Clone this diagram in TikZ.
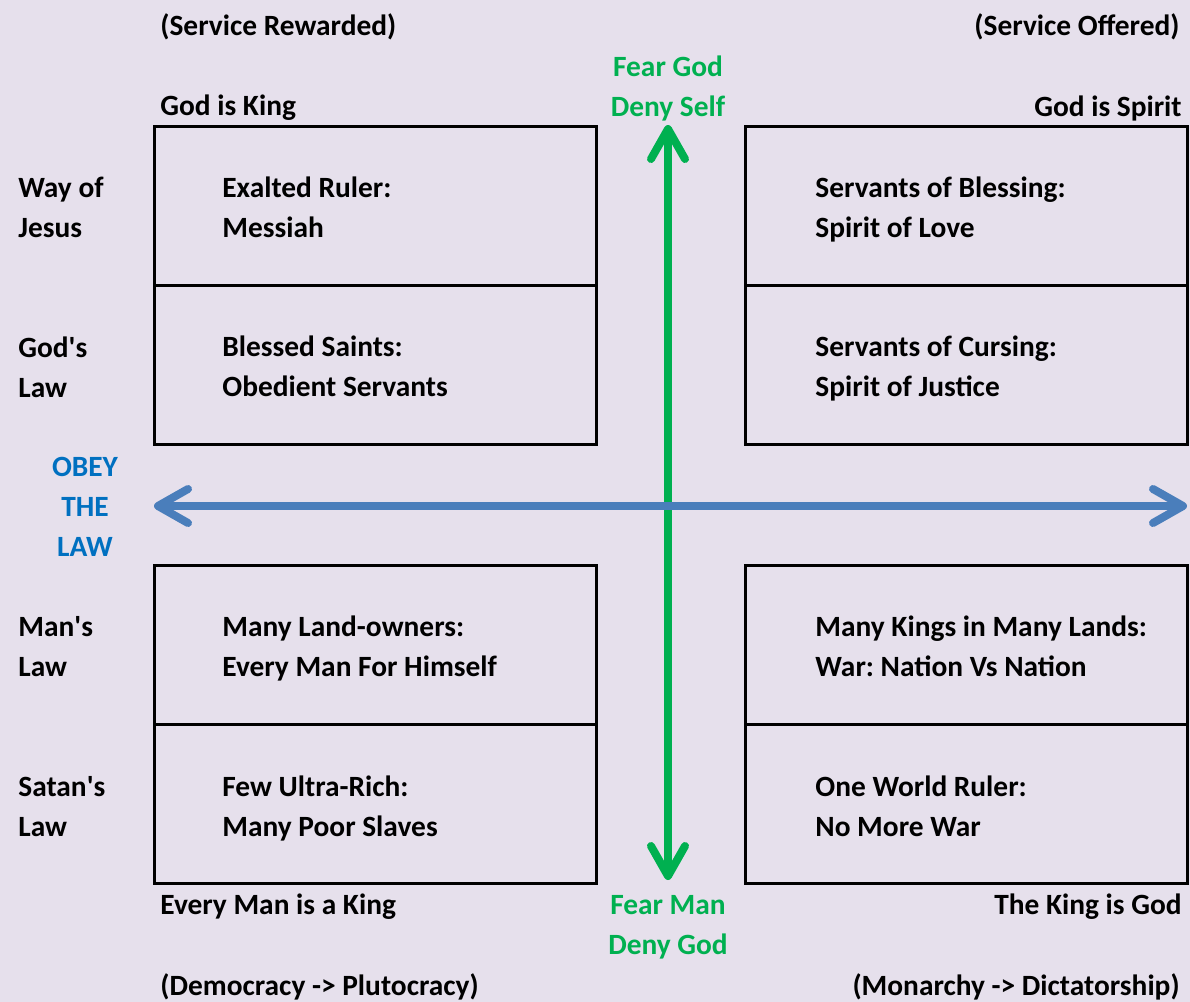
\documentclass[tikz,border=0pt]{standalone}
\usepackage{fontspec}
\setmainfont{Carlito}
\usetikzlibrary{arrows.meta, positioning}

\definecolor{lavender}{HTML}{E6E0EC}
\definecolor{feargreen}{HTML}{00B050}
\definecolor{lawblue}{HTML}{4A7EBB}
\definecolor{obeyblue}{HTML}{0070C0}

\tikzset{
	txt/.style={font=\bfseries\fontsize{14.7}{20}\selectfont, inner sep=0pt, align=left},
	intxt/.style={txt, anchor=north west},
	quad/.style={draw, line width=1.5pt, minimum width=221pt, minimum height=79.5pt, inner sep=0pt},
	axis/.style={line width=4pt, {Straight Barb[round, length=15pt, width=17pt]}-{Straight Barb[round, length=15pt, width=17pt]}}
}

\begin{document}
\frenchspacing
\begin{tikzpicture}[x=0.5pt, y=-0.5pt]
	\fill[lavender] (0,0) rectangle (1190,1002);
	\useasboundingbox (0,0) rectangle (1190,1002);

	% the four pairs of boxes
	\node[quad] (jesus) at (375.5,205.5) {};
	\node[quad] (godlaw) at (375.5,364.5) {};
	\node[quad] (manlaw) at (375.5,644.5) {};
	\node[quad] (satanlaw) at (375.5,804) {};
	\node[quad] (blessing) at (966.5,205.5) {};
	\node[quad] (cursing) at (966.5,364.5) {};
	\node[quad] (kings) at (966.5,644.5) {};
	\node[quad] (ruler) at (966.5,804) {};

	% box texts
	\node[intxt] (exalted) at ([xshift=34.5pt, yshift=-26pt]jesus.north west) {Exalted Ruler:\\Messiah};
	\node[intxt] (saints) at ([xshift=34.5pt, yshift=-26pt]godlaw.north west) {Blessed Saints:\\Obedient Servants};
	\node[intxt] (owners) at ([xshift=34.5pt, yshift=-26pt]manlaw.north west) {Many Land-owners:\\Every Man For Himself};
	\node[intxt] (rich) at ([xshift=34.5pt, yshift=-26pt]satanlaw.north west) {Few Ultra-Rich:\\Many Poor Slaves};
	\node[intxt] (love) at ([xshift=35.5pt, yshift=-26pt]blessing.north west) {Servants of Blessing:\\Spirit of Love};
	\node[intxt] (justice) at ([xshift=35.5pt, yshift=-26pt]cursing.north west) {Servants of Cursing:\\Spirit of Justice};
	\node[intxt] (nations) at ([xshift=35.5pt, yshift=-26pt]kings.north west) {Many Kings in Many Lands:\\War: Nation Vs Nation};
	\node[intxt] (oneworld) at ([xshift=35.5pt, yshift=-26pt]ruler.north west) {One World Ruler:\\No More War};

	% row labels
	\node[txt, anchor=west] (wayjesus) at (18,207) {Way of\\Jesus};
	\node[txt, anchor=west] (godslaw) at (18,367) {God\textquotesingle s\\Law};
	\node[txt, anchor=west] (manslaw) at (18,647) {Man\textquotesingle s\\Law};
	\node[txt, anchor=west] (satanslaw) at (18,807) {Satan\textquotesingle s\\Law};
	\node[txt, align=center, text=obeyblue] (obey) at (85,507) {OBEY\\THE\\LAW};

	% column labels
	\node[txt, anchor=west] (rewarded) at (160,27) {(Service Rewarded)};
	\node[txt, anchor=east] (offered) at (1180,27) {(Service Offered)};
	\node[txt, anchor=west] (godking) at (160,108) {God is King};
	\node[txt, anchor=east] (godspirit) at (1182,108) {God is Spirit};
	\node[txt, anchor=west] (manking) at (160,907) {Every Man is a King};
	\node[txt, anchor=east] (kinggod) at (1182,907) {The King is God};
	\node[txt, anchor=west] (democracy) at (160,987) {(Democracy -> Plutocracy)};
	\node[txt, anchor=east] (monarchy) at (1180,987) {(Monarchy -> Dictatorship)};
	\node[txt, align=center, text=feargreen] (feargod) at (668,88) {Fear God\\Deny Self};
	\node[txt, align=center, text=feargreen] (fearman) at (668,927) {Fear Man\\Deny God};

	% the two axes
	\coordinate (top) at (668,125);
	\coordinate (bottom) at (668,880);
	\coordinate (left) at (154,506);
	\coordinate (right) at (1187,506);
	\draw[axis, feargreen] (bottom) -- (top);
	\draw[axis, lawblue] (left) -- (right);
\end{tikzpicture}
\end{document}
